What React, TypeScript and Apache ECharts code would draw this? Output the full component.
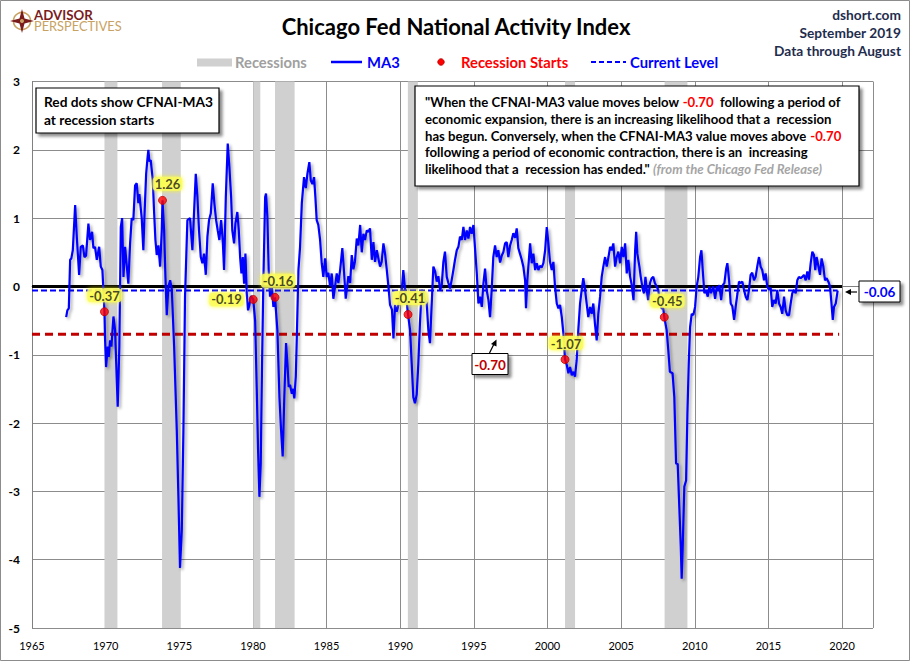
import React, { useEffect, useRef } from "react";
import * as echarts from "echarts";

const FONT = 'Lato, "Open Sans", sans-serif';

// CFNAI-MA3, [decimal year, value]
const ma3Points: [number, number][] = [
  [1967.32, -0.45], [1967.4, -0.35], [1967.5, -0.32], [1967.59, 0.39], [1967.67, 0.41], [1967.77, 0.53],
  [1967.93, 1.19], [1968.04, 0.73], [1968.2, 0.17], [1968.31, 0.58], [1968.45, 0.6], [1968.56, 0.43],
  [1968.67, 0.45], [1968.83, 0.92], [1968.94, 0.68], [1969.08, 0.8], [1969.17, 0.56], [1969.28, 0.58],
  [1969.4, 0.39], [1969.56, 0.58], [1969.67, 0.29], [1969.78, 0.24], [1969.92, -0.37], [1969.96, -0.76],
  [1970.03, -1.18], [1970.14, -0.88], [1970.21, -1.03], [1970.3, -0.79], [1970.39, -0.88], [1970.53, -0.44],
  [1970.64, -0.64], [1970.82, -1.76], [1970.93, -0.88], [1971.03, 0.87], [1971.12, 1.0], [1971.21, 0.14],
  [1971.32, 0.58], [1971.44, 0.29], [1971.54, 0.04], [1971.66, 0.63], [1971.77, 1.0], [1971.88, 0.97],
  [1972.0, 1.48], [1972.11, 1.51], [1972.22, 1.22], [1972.29, 1.35], [1972.45, 1.0], [1972.56, 0.53],
  [1972.63, 1.0], [1972.75, 1.65], [1972.84, 1.87], [1972.9, 2.0], [1972.97, 1.83], [1973.06, 1.85],
  [1973.2, 1.56], [1973.29, 1.09], [1973.38, 0.68], [1973.47, 0.46], [1973.58, 0.6], [1973.7, 0.29],
  [1973.81, 0.82], [1973.86, 1.26], [1973.97, 0.82], [1974.06, 0.14], [1974.15, -0.42], [1974.26, 0.0],
  [1974.38, 0.09], [1974.49, -0.04], [1974.65, -0.88], [1974.83, -2.1], [1974.94, -3.08], [1975.05, -4.12],
  [1975.17, -3.57], [1975.28, -2.1], [1975.39, -0.15], [1975.55, 0.97], [1975.73, 1.0], [1975.89, 0.53],
  [1976.0, 1.07], [1976.12, 1.65], [1976.23, 1.31], [1976.34, 0.82], [1976.46, 0.43], [1976.57, 0.34],
  [1976.68, 0.48], [1976.8, 0.17], [1976.91, 0.73], [1977.02, 0.97], [1977.14, 1.07], [1977.27, 1.51],
  [1977.38, 1.22], [1977.5, 0.97], [1977.61, 0.82], [1977.72, 0.68], [1977.84, 0.97], [1977.95, 0.68],
  [1978.04, 0.24], [1978.16, 1.31], [1978.29, 2.09], [1978.4, 1.75], [1978.52, 1.31], [1978.6, 0.82],
  [1978.72, 0.63], [1978.81, 0.92], [1978.94, 1.09], [1979.04, 0.82], [1979.13, 0.43], [1979.22, 0.19],
  [1979.31, 0.43], [1979.4, 0.04], [1979.49, 0.48], [1979.58, -0.1], [1979.67, -0.35], [1979.76, -0.27],
  [1979.87, -0.14], [1980.02, -0.19], [1980.15, -0.5], [1980.26, -1.5], [1980.35, -2.4], [1980.44, -3.08],
  [1980.53, -2.59], [1980.62, -1.12], [1980.71, 0.09], [1980.83, 1.31], [1980.89, 1.36], [1980.98, 1.02],
  [1981.07, 0.24], [1981.16, -0.15], [1981.28, 0.0], [1981.39, -0.3], [1981.5, -0.16], [1981.66, -0.64],
  [1981.8, -1.62], [1981.91, -2.1], [1982.02, -2.49], [1982.13, -1.62], [1982.25, -0.83], [1982.34, -1.13],
  [1982.43, -1.47], [1982.52, -1.44], [1982.64, -1.57], [1982.73, -1.5], [1982.81, -1.64], [1982.91, -1.32],
  [1982.98, -0.74], [1983.09, 0.24], [1983.2, 0.58], [1983.32, 1.22], [1983.47, 1.6], [1983.59, 1.44],
  [1983.7, 1.65], [1983.83, 1.82], [1983.93, 1.55], [1984.04, 1.5], [1984.15, 1.6], [1984.24, 1.31],
  [1984.33, 0.97], [1984.44, 0.9], [1984.56, 0.68], [1984.67, 0.34], [1984.78, 0.14], [1984.9, 0.41],
  [1985.01, 0.14], [1985.12, 0.2], [1985.24, 0.0], [1985.35, 0.19], [1985.46, -0.18], [1985.58, 0.0],
  [1985.69, 0.19], [1985.8, 0.05], [1985.92, 0.24], [1986.07, 0.56], [1986.19, 0.2], [1986.3, -0.18],
  [1986.48, 0.15], [1986.6, 0.05], [1986.71, 0.46], [1986.82, 0.25], [1986.93, 0.37], [1987.05, 0.7],
  [1987.16, 0.6], [1987.28, 0.9], [1987.39, 0.5], [1987.5, 0.77], [1987.61, 0.68], [1987.73, 0.82],
  [1987.84, 0.8], [1987.95, 0.85], [1988.07, 0.39], [1988.18, 0.65], [1988.29, 0.36], [1988.41, 0.53],
  [1988.52, 0.41], [1988.63, 0.29], [1988.74, 0.36], [1988.86, 0.63], [1988.97, 0.48], [1989.09, 0.24],
  [1989.2, 0.0], [1989.31, -0.27], [1989.44, -0.34], [1989.54, -0.76], [1989.65, -0.27], [1989.76, -0.37],
  [1989.88, -0.27], [1989.99, -0.1], [1990.11, -0.05], [1990.21, 0.24], [1990.33, -0.05], [1990.45, -0.25],
  [1990.53, -0.41], [1990.67, -0.64], [1990.78, -1.13], [1990.89, -1.62], [1991.0, -1.71], [1991.12, -1.58],
  [1991.23, -1.13], [1991.34, -0.54], [1991.46, -0.05], [1991.57, -0.1], [1991.68, -0.2], [1991.8, -0.25],
  [1991.91, -0.64], [1992.02, -0.83], [1992.14, -0.25], [1992.25, 0.29], [1992.37, 0.22], [1992.48, 0.07],
  [1992.59, 0.15], [1992.71, -0.05], [1992.82, 0.02], [1992.93, 0.36], [1993.04, 0.51], [1993.16, 0.14],
  [1993.27, 0.05], [1993.38, -0.03], [1993.5, 0.1], [1993.61, 0.24], [1993.72, 0.39], [1993.84, 0.53],
  [1993.95, 0.58], [1994.06, 0.73], [1994.18, 0.68], [1994.29, 0.87], [1994.4, 0.68], [1994.52, 0.82],
  [1994.63, 0.7], [1994.74, 0.87], [1994.85, 0.77], [1994.97, 0.9], [1995.08, 0.56], [1995.2, 0.19],
  [1995.31, -0.25], [1995.42, -0.15], [1995.54, -0.3], [1995.65, 0.05], [1995.76, 0.26], [1995.87, -0.05],
  [1995.99, -0.2], [1996.1, -0.45], [1996.21, -0.05], [1996.32, 0.43], [1996.44, 0.6], [1996.55, 0.43],
  [1996.66, 0.53], [1996.78, 0.35], [1996.89, 0.45], [1997.0, 0.5], [1997.12, 0.63], [1997.23, 0.65],
  [1997.34, 0.43], [1997.46, 0.6], [1997.57, 0.68], [1997.68, 0.78], [1997.8, 0.71], [1997.91, 0.85],
  [1998.02, 0.56], [1998.13, 0.48], [1998.25, 0.39], [1998.36, 0.29], [1998.48, 0.09], [1998.54, -0.32],
  [1998.63, 0.09], [1998.7, 0.29], [1998.82, 0.63], [1998.93, 0.34], [1999.04, 0.48], [1999.16, 0.24],
  [1999.27, 0.34], [1999.38, 0.24], [1999.49, 0.3], [1999.61, 0.28], [1999.72, 0.34], [1999.84, 0.53],
  [1999.95, 0.87], [2000.06, 0.63], [2000.17, 0.36], [2000.29, 0.24], [2000.4, 0.36], [2000.51, 0.0],
  [2000.63, -0.25], [2000.74, -0.32], [2000.85, -0.27], [2000.97, -0.45], [2001.08, -0.69], [2001.19, -1.07],
  [2001.31, -1.15], [2001.42, -1.27], [2001.53, -1.18], [2001.65, -1.3], [2001.76, -1.25], [2001.87, -1.32],
  [2001.98, -1.08], [2002.09, -0.64], [2002.21, -0.25], [2002.32, -0.05], [2002.43, 0.12], [2002.55, -0.05],
  [2002.66, -0.25], [2002.77, -0.45], [2002.89, -0.3], [2003.0, -0.4], [2003.11, -0.25], [2003.22, -0.54],
  [2003.34, -0.79], [2003.45, -0.4], [2003.57, -0.15], [2003.68, 0.14], [2003.79, 0.29], [2003.91, 0.43],
  [2004.02, 0.29], [2004.14, 0.43], [2004.25, 0.58], [2004.36, 0.53], [2004.47, 0.63], [2004.59, 0.29],
  [2004.7, 0.43], [2004.81, 0.51], [2004.93, 0.34], [2005.04, 0.58], [2005.15, 0.43], [2005.27, 0.63],
  [2005.38, 0.19], [2005.49, 0.39], [2005.61, 0.14], [2005.72, 0.02], [2005.84, -0.2], [2005.95, 0.53],
  [2006.02, 0.8], [2006.1, 0.48], [2006.24, 0.29], [2006.33, 0.14], [2006.47, -0.05], [2006.56, -0.1],
  [2006.65, 0.14], [2006.74, -0.05], [2006.83, -0.2], [2006.96, 0.05], [2007.07, 0.12], [2007.18, 0.14],
  [2007.29, 0.05], [2007.41, 0.0], [2007.52, -0.05], [2007.64, -0.25], [2007.75, -0.32], [2007.86, -0.32],
  [2007.93, -0.45], [2008.09, -0.64], [2008.2, -0.93], [2008.31, -1.25], [2008.49, -1.27], [2008.61, -1.62],
  [2008.73, -2.59], [2008.84, -2.6], [2008.95, -3.23], [2009.05, -3.81], [2009.11, -4.28], [2009.18, -3.81],
  [2009.29, -2.93], [2009.41, -2.84], [2009.5, -1.86], [2009.59, -1.13], [2009.68, -0.6], [2009.79, -0.4],
  [2009.9, -0.42], [2010.02, -0.3], [2010.13, 0.0], [2010.24, 0.14], [2010.36, 0.43], [2010.45, 0.53],
  [2010.54, 0.24], [2010.65, -0.1], [2010.76, -0.05], [2010.88, -0.15], [2010.99, 0.0], [2011.1, -0.1],
  [2011.17, -0.05], [2011.26, 0.0], [2011.38, -0.18], [2011.49, 0.0], [2011.6, -0.05], [2011.67, 0.02],
  [2011.79, -0.2], [2011.9, 0.02], [2012.01, 0.05], [2012.13, 0.26], [2012.21, 0.34], [2012.33, 0.09],
  [2012.44, -0.25], [2012.55, -0.29], [2012.67, -0.49], [2012.78, -0.29], [2012.9, -0.1], [2013.0, 0.07],
  [2013.12, 0.05], [2013.23, 0.07], [2013.34, -0.05], [2013.46, -0.15], [2013.57, -0.2], [2013.68, -0.05],
  [2013.79, 0.17], [2013.9, 0.2], [2014.02, 0.09], [2014.13, 0.14], [2014.24, 0.29], [2014.36, 0.43],
  [2014.47, 0.29], [2014.58, 0.24], [2014.7, 0.09], [2014.81, 0.19], [2014.92, 0.0], [2015.04, -0.05],
  [2015.15, -0.02], [2015.26, -0.3], [2015.37, -0.2], [2015.49, -0.25], [2015.6, -0.05], [2015.72, -0.25],
  [2015.83, -0.3], [2015.94, -0.4], [2016.06, -0.15], [2016.17, -0.35], [2016.28, -0.42], [2016.4, -0.42],
  [2016.51, -0.25], [2016.62, -0.1], [2016.74, -0.05], [2016.85, -0.1], [2016.96, 0.09], [2017.07, 0.14],
  [2017.19, 0.12], [2017.3, 0.14], [2017.41, 0.17], [2017.53, 0.09], [2017.64, 0.22], [2017.75, 0.1],
  [2017.87, 0.34], [2017.98, 0.51], [2018.09, 0.46], [2018.18, 0.24], [2018.27, 0.43], [2018.39, 0.3],
  [2018.5, 0.17], [2018.61, 0.41], [2018.72, 0.3], [2018.84, 0.09], [2018.95, 0.12], [2019.07, 0.07],
  [2019.18, 0.0], [2019.27, -0.22], [2019.37, -0.49], [2019.45, -0.3], [2019.57, -0.25], [2019.7, -0.06],
];

// Recession periods (decimal years)
const recessionBegin = [1969.92, 1973.83, 1980.02, 1981.5, 1990.52, 2001.19, 2007.95];
const recessionEnd = [1970.8, 1975.1, 1980.5, 1982.83, 1991.2, 2001.87, 2009.5];

// Recession starts (red dots)
const startYears = [1969.92, 1973.86, 1980.02, 1981.5, 1990.53, 2001.19, 2007.93];
const startValues = [-0.37, 1.26, -0.19, -0.16, -0.41, -1.07, -0.45];

// Reference levels
const zeroLine: [number, number][] = [[1965, 0], [2020, 0]];
const currentLevel = -0.06;
const currentLevelSpan = [1965, 2019.7];
const threshold = -0.7;
const thresholdSpan = [1965, 2019.8];

const xMin = 1965;
const xMax = 2022.1;
const yMin = -5;
const yMax = 3;

const quoteLines = [
  '"When the CFNAI-MA3 value moves below {r|-0.70}  following a period of',
  "economic expansion, there is an increasing likelihood that a  recession",
  "has begun. Conversely, when the CFNAI-MA3 value moves above {r|-0.70}",
  "following a period of economic contraction, there is an  increasing",
  'likelihood that a  recession has ended." {g|(from the Chicago Fed Release)}',
];

export default function App() {
  const ref = useRef<HTMLDivElement>(null);

  useEffect(() => {
    if (!ref.current) return;
    const chart = echarts.init(ref.current, undefined, { renderer: "svg" });

    const labelPos = ["top", "top", "left", "top", "top", "top", "top"];
    const labelOffset = [[0, 0], [5, 0], [0, 0], [3, 0], [2, 0], [1, 0], [3, 0]];
    const SX = 1;

    const txt = (x: number, y: number, text: string, size: number, color: string, opts: any = {}) => ({
      type: "text",
      x,
      y,
      scaleX: opts.scaleX ?? SX,
      silent: true,
      style: {
        text,
        fill: color,
        fontSize: size,
        fontWeight: opts.weight ?? "bold",
        fontStyle: opts.style ?? "normal",
        fontFamily: FONT,
        textAlign: opts.align ?? "left",
        textVerticalAlign: opts.valign ?? "middle",
        lineHeight: opts.lineHeight,
        rich: opts.rich,
      },
      z: 100,
    });

    const boxShadow = { shadowBlur: 3, shadowOffsetX: 3, shadowOffsetY: 3, shadowColor: "rgba(0,0,0,0.45)" };

    const quoteRich = {
      r: { fill: "#ff0000", fontSize: 14, fontWeight: "bold", fontFamily: FONT, lineHeight: 16.6 },
      g: { fill: "#a5a5a5", fontSize: 14, fontWeight: "bold", fontStyle: "italic", fontFamily: FONT, lineHeight: 16.6 },
    };

    const option: any = {
      animation: false,
      backgroundColor: "#ffffff",
      grid: { left: 32, right: 37, top: 81.5, bottom: 33, containLabel: false },
      xAxis: {
        type: "value",
        min: xMin,
        max: xMax,
        interval: 5,
        axisLine: { show: true, lineStyle: { color: "#808080", width: 1 } },
        axisTick: { show: false },
        splitLine: { show: true, lineStyle: { color: "#8c8c8c", width: 1 } },
        axisLabel: {
          color: "#000",
          fontSize: 11,
          fontFamily: FONT,
          margin: 12,
          showMaxLabel: false,
          formatter: (v: number) => (Math.abs(v - Math.round(v)) < 1e-6 && Math.round(v) % 5 === 0 ? String(Math.round(v)) : ""),
        },
      },
      yAxis: {
        type: "value",
        min: yMin,
        max: yMax,
        interval: 1,
        axisLine: { show: true, lineStyle: { color: "#808080", width: 1 } },
        axisTick: { show: false },
        splitLine: { show: true, lineStyle: { color: "#8c8c8c", width: 1 } },
        axisLabel: { color: "#000", fontSize: 12, fontWeight: "bold", fontFamily: FONT, margin: 12 },
      },
      series: [
        {
          type: "custom",
          name: "Recessions",
          silent: true,
          z: 1,
          encode: { x: [0, 1] },
          data: recessionBegin.map((b, i) => [b, recessionEnd[i]]),
          renderItem: (params: any, api: any) => {
            const s = api.coord([api.value(0), yMax]);
            const e = api.coord([api.value(1), yMin]);
            return {
              type: "rect",
              shape: { x: s[0], y: s[1], width: e[0] - s[0], height: e[1] - s[1] },
              style: { fill: "#d0d0d0" },
            };
          },
        },
        {
          type: "line",
          name: "Zero",
          silent: true,
          z: 3,
          symbol: "none",
          data: zeroLine,
          lineStyle: { color: "#000000", width: 3 },
        },
        {
          type: "line",
          name: "Current Level",
          silent: true,
          z: 4,
          symbol: "none",
          data: currentLevelSpan.map((x) => [x, currentLevel]),
          lineStyle: { color: "#0000ff", width: 2, type: [6, 3] },
        },
        {
          type: "line",
          name: "Threshold",
          silent: true,
          z: 4,
          symbol: "none",
          data: thresholdSpan.map((x) => [x, threshold]),
          lineStyle: { color: "#c00000", width: 3, type: [8, 5] },
        },
        {
          type: "line",
          name: "MA3",
          silent: true,
          z: 5,
          symbol: "none",
          data: ma3Points,
          lineStyle: {
            color: "#0000ff",
            width: 2.2,
            shadowColor: "rgba(0,0,0,0.35)",
            shadowBlur: 3,
            shadowOffsetX: 2,
            shadowOffsetY: 2,
          },
        },
        {
          type: "scatter",
          name: "Recession Starts",
          silent: true,
          z: 6,
          symbolSize: 8,
          itemStyle: { color: "#ff0000", borderColor: "#c00000", borderWidth: 1 },
          data: startYears.map((x, i) => ({
            value: [x, startValues[i]],
            label: {
              show: true,
              position: labelPos[i],
              offset: labelOffset[i],
              distance: 5,
              formatter: startValues[i].toFixed(2),
              color: "#1a1a1a",
              fontSize: 13,
              fontWeight: "bold",
              fontFamily: FONT,
              backgroundColor: "#fbfb5a",
              padding: [1, 2, 0, 2],
              borderRadius: 4,
              shadowColor: "#ffff00",
              shadowBlur: 4,
            },
          })),
        },
      ],
      graphic: [
        // outer frame
        { type: "rect", silent: true, z: 0, shape: { x: 0.5, y: 0.5, width: 909, height: 660 }, style: { fill: "none", stroke: "#8c8c8c", lineWidth: 1 } },
        // logo
        { type: "circle", silent: true, z: 100, shape: { cx: 22, cy: 21, r: 8.5 }, style: { fill: "none", stroke: "#c8a262", lineWidth: 1.6 } },
        { type: "polygon", silent: true, z: 100, shape: { points: [[22, 9], [24.5, 18.5], [34, 21], [24.5, 23.5], [22, 33], [19.5, 23.5], [10, 21], [19.5, 18.5]] }, style: { fill: "#7a1c1c" } },
        { type: "circle", silent: true, z: 101, shape: { cx: 22, cy: 21, r: 2 }, style: { fill: "#c8a262" } },
        txt(34, 9, "{a|ADVISOR}\n{b|PERSPECTIVES}", 14, "#7a1c1c", {
          valign: "top",
          scaleX: 0.95,
          rich: {
            a: { fill: "#7a1c1c", fontSize: 14, fontWeight: "bold", fontFamily: FONT, lineHeight: 11.5 },
            b: { fill: "#c8a262", fontSize: 13.5, fontWeight: "normal", fontFamily: FONT, lineHeight: 11.5 },
          },
        }),
        // title
        txt(456, 26, "Chicago Fed National Activity Index", 22, "#000000", { align: "center" }),
        // top right
        txt(901, 14, "dshort.com", 14, "#1f2d4e", { align: "right", scaleX: 0.98 }),
        txt(901, 32, "September 2019", 14, "#1f2d4e", { align: "right", scaleX: 0.98 }),
        txt(901, 50.5, "Data through August", 14, "#1f2d4e", { align: "right", scaleX: 0.98 }),
        // legend
        { type: "rect", silent: true, z: 100, shape: { x: 197, y: 58.5, width: 35, height: 8 }, style: { fill: "#d0d0d0" } },
        txt(235, 62.5, "Recessions", 14.5, "#a0a0a0", { scaleX: 1.02 }),
        { type: "line", silent: true, z: 100, shape: { x1: 331, y1: 62, x2: 362, y2: 62 }, style: { stroke: "#0000ff", lineWidth: 2.5 } },
        txt(367, 62.5, "MA3", 14.5, "#0000ff", { scaleX: 1.02 }),
        { type: "circle", silent: true, z: 100, shape: { cx: 441, cy: 62, r: 3.2 }, style: { fill: "#ff0000", stroke: "#c00000", lineWidth: 1 } },
        txt(461, 62.5, "Recession Starts", 14.5, "#ff0000", { scaleX: 1.02 }),
        { type: "line", silent: true, z: 100, shape: { x1: 591, y1: 62, x2: 626, y2: 62 }, style: { stroke: "#0000ff", lineWidth: 2, lineDash: [5, 3] } },
        txt(630, 62.5, "Current Level", 14.5, "#0000ff", { scaleX: 1.02 }),
        // left note box
        { type: "rect", silent: true, z: 90, shape: { x: 36, y: 88, width: 183, height: 45 }, style: { fill: "#ffffff", stroke: "#000000", lineWidth: 1.2, ...boxShadow } },
        txt(44, 93, "Red dots show CFNAI-MA3\nat recession starts", 14, "#000000", { valign: "top", lineHeight: 17.6, scaleX: 0.98 }),
        // quote box
        { type: "rect", silent: true, z: 90, shape: { x: 415, y: 86, width: 444, height: 100 }, style: { fill: "#ffffff", stroke: "#000000", lineWidth: 1.2, ...boxShadow } },
        txt(425, 94, quoteLines.join("\n"), 14, "#000000", { valign: "top", lineHeight: 16.6, rich: quoteRich, scaleX: 0.94 }),
        // current level callout
        { type: "rect", silent: true, z: 90, shape: { x: 859, y: 281, width: 41, height: 21 }, style: { fill: "#ffffff", stroke: "#000000", lineWidth: 1, ...boxShadow } },
        txt(879.5, 292, "-0.06", 13.5, "#0000ff", { align: "center" }),
        { type: "line", silent: true, z: 95, shape: { x1: 857, y1: 292, x2: 849, y2: 292 }, style: { stroke: "#000000", lineWidth: 1.2 } },
        { type: "polygon", silent: true, z: 95, shape: { points: [[845, 292], [851, 289], [851, 295]] }, style: { fill: "#000000" } },
        // threshold callout
        { type: "rect", silent: true, z: 90, shape: { x: 472, y: 353.5, width: 36, height: 21 }, style: { fill: "#ffffff", stroke: "#000000", lineWidth: 1, ...boxShadow } },
        txt(490, 364.5, "-0.70", 13.5, "#c00000", { align: "center" }),
        { type: "line", silent: true, z: 95, shape: { x1: 489.5, y1: 353, x2: 494, y2: 344 }, style: { stroke: "#000000", lineWidth: 1.2 } },
        { type: "polygon", silent: true, z: 95, shape: { points: [[496.5, 339.5], [496.5, 346.5], [491, 344]] }, style: { fill: "#000000" } },
      ],
    };

    chart.setOption(option);
    return () => chart.dispose();
  }, []);

  return <div ref={ref} style={{ position: "absolute", left: 0, top: 0, width: 910, height: 661 }} />;
}
